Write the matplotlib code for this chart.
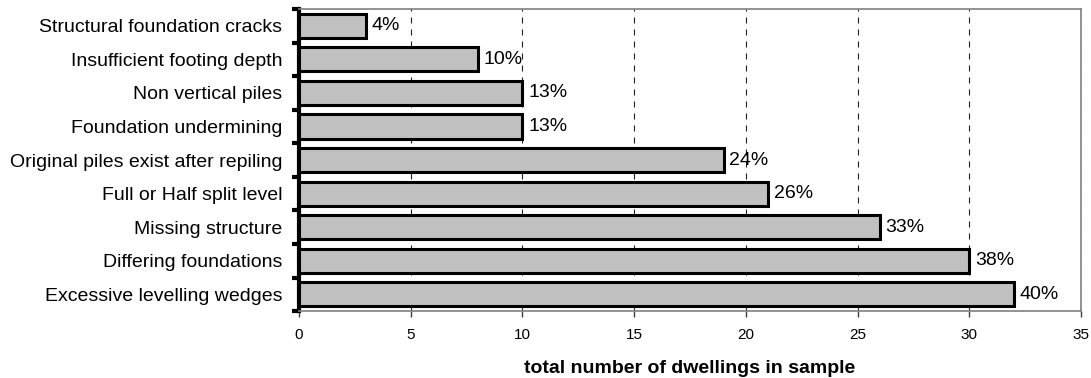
import matplotlib
matplotlib.use("Agg")
import matplotlib.pyplot as plt
import numpy as np

plt.rcParams['font.family'] = ['Liberation Sans', 'DejaVu Sans']

categories = [
    "Structural foundation cracks",
    "Insufficient footing depth",
    "Non vertical piles",
    "Foundation undermining",
    "Original piles exist after repiling",
    "Full or Half split level",
    "Missing structure",
    "Differing foundations",
    "Excessive levelling wedges",
]
counts = [3, 8, 10, 10, 19, 21, 26, 30, 32]
percent_labels = ["4%", "10%", "13%", "13%", "24%", "26%", "33%", "38%", "40%"]
x_ticks = [0, 5, 10, 15, 20, 25, 30, 35]

fig = plt.figure(figsize=(10.91, 3.78), dpi=100)
ax = fig.add_axes([0.274, 0.177, 0.717, 0.799])

y = np.arange(len(categories))
ax.barh(y, counts, height=0.72, color="#c0c0c0", edgecolor="black",
        linewidth=2.2, zorder=3)

for yi, v, lab in zip(y, counts, percent_labels):
    ax.text(v + 0.25, yi, lab, va="center", ha="left", fontsize=14, zorder=4)

ax.set_xlim(0, 35)
ax.set_ylim(len(categories) - 0.5, -0.5)
ax.set_xticks(x_ticks)
ax.tick_params(axis="x", direction="out", length=4, width=1,
               color="#404040", labelsize=11, pad=8)

# category boundaries carry the tick marks, centres carry the labels
ax.set_yticks(np.arange(-0.5, len(categories), 1.0))
ax.set_yticklabels([])
ax.tick_params(axis="y", which="major", direction="out", length=5,
               width=3, color="black")
ax.set_yticks(y, minor=True)
ax.set_yticklabels(categories, minor=True, fontsize=14)
ax.tick_params(axis="y", which="minor", length=0, pad=12)

ax.xaxis.grid(True, linestyle=(0, (5.4, 5.4)), color="#202020",
              linewidth=0.8, zorder=0)
ax.set_axisbelow(True)

ax.spines["left"].set_linewidth(3)
ax.spines["left"].set_color("black")
for s in ("top", "right", "bottom"):
    ax.spines[s].set_linewidth(1.2)
    ax.spines[s].set_color("#808080")

ax.set_xlabel("total number of dwellings in sample", fontsize=14,
              fontweight="bold", labelpad=13)

fig.savefig("out.png", dpi=100)
